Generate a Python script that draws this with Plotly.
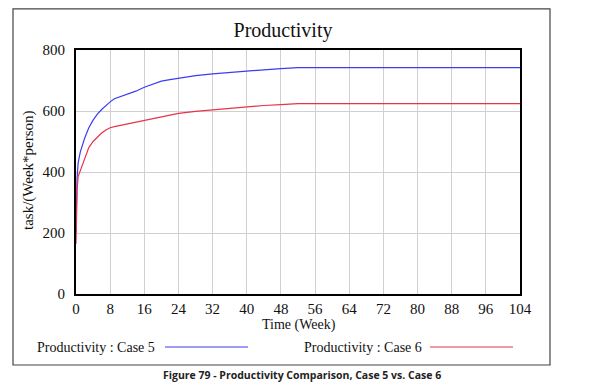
import plotly.graph_objects as go

weeks = [0, 0.25, 0.5, 1, 2, 3, 4, 5, 6, 7, 8, 9, 10, 12, 14, 16, 18, 20, 22, 24,
         28, 32, 36, 40, 44, 48, 52, 104]
case5 = [200, 380, 430, 465, 510, 545, 570, 590, 605, 618, 630, 640, 645, 655, 665,
         678, 688, 698, 703, 708, 716, 722, 727, 731, 735, 739, 742, 742]
case6 = [165, 340, 385, 405, 445, 480, 500, 515, 528, 538, 545, 549, 552, 558, 564,
         568, 575, 582, 588, 592, 599, 604, 610, 614, 618, 621, 624, 624]
x_ticks = list(range(0, 105, 8))
y_ticks = [0, 200, 400, 600, 800]

BLUE = "#3c3cf0"
RED = "#e8334a"
SERIF = "Liberation Serif, Times New Roman, serif"
TXT = "#111"

# the page body has an 8px margin; figure coordinates = screen coordinates - 8
OFF = 8
FW, FH = 601 - OFF, 390 - OFF
L, R, T, B = 76 - OFF, 520 - OFF, 50 - OFF, 294 - OFF

fig = go.Figure()
fig.add_trace(go.Scatter(x=weeks, y=case5, mode="lines", line=dict(color=BLUE, width=1.2),
                         name="Productivity : Case 5", showlegend=False))
fig.add_trace(go.Scatter(x=weeks, y=case6, mode="lines", line=dict(color=RED, width=1.2),
                         name="Productivity : Case 6", showlegend=False))

fig.update_layout(
    width=FW, height=FH,
    margin=dict(l=L, r=FW - R, t=T, b=FH - B, autoexpand=False),
    paper_bgcolor="white", plot_bgcolor="white",
    font=dict(family=SERIF, size=15, color=TXT),
    title=dict(text="Productivity", x=(283 - OFF) / FW, xanchor="center", y=1 - (30 - OFF) / FH,
               yanchor="middle", font=dict(family=SERIF, size=20, color=TXT)),
)
fig.update_xaxes(range=[0, 104], tickvals=x_ticks, showgrid=True, gridcolor="#d0d0d0", gridwidth=1,
                 showline=True, linecolor="black", linewidth=2, mirror=True, zeroline=False,
                 ticks="", automargin=False, tickfont=dict(family=SERIF, size=15))
fig.update_yaxes(range=[0, 800], tickvals=y_ticks, showgrid=True, gridcolor="#d0d0d0", gridwidth=1,
                 showline=True, linecolor="black", linewidth=2, mirror=True, zeroline=False,
                 ticks="outside", ticklen=6, tickcolor="rgba(0,0,0,0)", automargin=False,
                 tickfont=dict(family=SERIF, size=15))

W, H = float(R - L), float(B - T)
def px(x): return (x - OFF - L) / W   # x in screen pixels
def py(y): return (B - (y - OFF)) / H  # y in screen pixels

# axis titles
fig.add_annotation(xref="paper", yref="paper", x=px(299), y=py(325), xanchor="center", yanchor="middle",
                   text="Time (Week)", showarrow=False, font=dict(family=SERIF, size=14, color=TXT))
fig.add_annotation(xref="paper", yref="paper", x=px(28), y=py(170), xanchor="center", yanchor="middle",
                   text="task/(Week*person)", textangle=-90, showarrow=False,
                   font=dict(family=SERIF, size=15, color=TXT))
# outer frame
fig.add_shape(type="rect", xref="paper", yref="paper", x0=px(13), x1=px(550), y0=py(365), y1=py(8.8),
              line=dict(color="#444", width=1.2), layer="below")
# legend entries
fig.add_annotation(xref="paper", yref="paper", x=px(35), y=py(347), xanchor="left", yanchor="middle",
                   text="Productivity : Case 5", showarrow=False, font=dict(family=SERIF, size=14, color=TXT))
fig.add_shape(type="line", xref="paper", yref="paper", x0=px(165), x1=px(248), y0=py(347), y1=py(347),
              line=dict(color=BLUE, width=1.2))
fig.add_annotation(xref="paper", yref="paper", x=px(302), y=py(347), xanchor="left", yanchor="middle",
                   text="Productivity : Case 6", showarrow=False, font=dict(family=SERIF, size=14, color=TXT))
fig.add_shape(type="line", xref="paper", yref="paper", x0=px(430), x1=px(513), y0=py(347), y1=py(347),
              line=dict(color=RED, width=1.2))
# caption
fig.add_annotation(xref="paper", yref="paper", x=px(302), y=py(375), xanchor="center", yanchor="middle",
                   text="<b>Figure 79 - Productivity Comparison, Case 5 vs. Case 6</b>", showarrow=False,
                   font=dict(family="Open Sans, Liberation Sans, sans-serif", size=10.5, color="#222"))

fig.write_html("out.html")
